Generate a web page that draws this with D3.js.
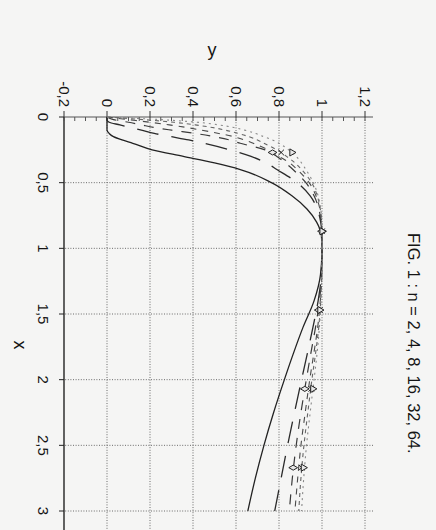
<!DOCTYPE html>
<html>
<head>
<meta charset="utf-8">
<script src="https://cdn.jsdelivr.net/npm/d3@7"></script>
<style>
	body { margin: 0; background: #f5f5f4; }
	text { font-family: "Liberation Sans", Arial, sans-serif; fill: #151515; }
	.grid { stroke: #6a6a6a; stroke-width: 1; stroke-dasharray: 1,1.6; }
	.curve { fill: none; }
	.marker { fill: #e8e8e8; stroke: #222; stroke-width: 1; }
</style>
</head>
<body>
<div class="chart"></div>
<script>
// DATA
var xVals = [0, 0.02, 0.04, 0.06, 0.08, 0.1, 0.125, 0.15, 0.175, 0.2, 0.25, 0.3, 0.35, 0.4,
	0.5, 0.6, 0.7, 0.8, 0.9, 1.0, 1.2, 1.4, 1.6, 1.8, 2.0, 2.25, 2.5, 2.75, 3.0];

var n2 = [0, 0, 0, 0, 0, 0, 0.01, 0.03, 0.07, 0.12, 0.21, 0.355, 0.5, 0.62,
	0.765, 0.86, 0.93, 0.975, 0.997, 1.0, 0.993, 0.963, 0.912, 0.867, 0.825, 0.775, 0.73, 0.69, 0.655];
var n4 = [0, 0, 0.01, 0.06, 0.11, 0.16, 0.22, 0.3, 0.38, 0.45, 0.57, 0.67, 0.74, 0.79,
	0.885, 0.945, 0.978, 0.994, 1.0, 1.0, 0.997, 0.982, 0.958, 0.932, 0.905, 0.872, 0.84, 0.81, 0.78];
var n8 = [0, 0.03, 0.1, 0.16, 0.22, 0.3, 0.41, 0.5, 0.57, 0.62, 0.735, 0.79, 0.83, 0.865,
	0.925, 0.963, 0.985, 0.996, 1.0, 1.0, 0.998, 0.988, 0.97, 0.948, 0.927, 0.902, 0.88, 0.862, 0.848];
var n16 = [0, 0.1, 0.2, 0.29, 0.37, 0.44, 0.52, 0.59, 0.64, 0.68, 0.75, 0.8, 0.85, 0.885,
	0.94, 0.972, 0.99, 0.998, 1.0, 1.0, 0.999, 0.992, 0.98, 0.962, 0.943, 0.922, 0.902, 0.887, 0.874];
var n32 = [0, 0.17, 0.31, 0.41, 0.49, 0.55, 0.61, 0.66, 0.7, 0.73, 0.79, 0.835, 0.875, 0.905,
	0.952, 0.978, 0.992, 0.998, 1.0, 1.0, 0.999, 0.994, 0.985, 0.97, 0.953, 0.934, 0.916, 0.902, 0.892];
var n64 = [0, 0.25, 0.42, 0.52, 0.59, 0.64, 0.69, 0.73, 0.77, 0.8, 0.845, 0.88, 0.905, 0.925,
	0.96, 0.982, 0.994, 0.999, 1.0, 1.0, 0.999, 0.995, 0.988, 0.977, 0.963, 0.945, 0.928, 0.915, 0.905];

// marker points
var markerX = [0.27, 0.87, 1.47, 2.07, 2.67];
var diamondY = [0.77, 1.0, 0.985, 0.92, 0.866];
var crossY = [0.81, 1.0, 0.99, 0.95, 0.905];
var triangleY = [0.86, 1.0, 0.99, 0.957, 0.913];

var xTicks = [0, 0.5, 1, 1.5, 2, 2.5, 3];
var yTicks = [-0.2, 0, 0.2, 0.4, 0.6, 0.8, 1, 1.2];
var title = "FIG. 1 : n = 2, 4, 8, 16, 32, 64.";

// INITIALIZATION PHASE
// the figure is drawn upright and then turned a quarter clockwise, like the scan
var W = 394, H = 309, extra = 420;

var svg = d3.select(".chart")
	.append("svg")
	.attr("width", 436)
	.attr("height", 530);

var g = svg.append("g")
	.attr("transform", "translate(373, 117) rotate(90)");

var x = d3.scaleLinear()
	.domain([0, 3])
	.range([0, W]);

var y = d3.scaleLinear()
	.domain([-0.2, 1.2])
	.range([H, 8]);

var loc = d3.formatLocale({ decimal: ",", thousands: ".", grouping: [3], currency: ["", ""], minus: "-" });
var fmt = loc.format("~g");

// grid
g.selectAll(".grid-y")
	.data(yTicks.filter(function(d) { return d > -0.2; }))
	.enter().append("line")
		.attr("class", "grid")
		.attr("x1", 0)
		.attr("x2", extra)
		.attr("y1", y)
		.attr("y2", y);

g.selectAll(".grid-x")
	.data(xTicks.filter(function(d) { return d > 0; }))
	.enter().append("line")
		.attr("class", "grid")
		.attr("x1", x)
		.attr("x2", x)
		.attr("y1", 0)
		.attr("y2", H);

// axes
g.append("line")
	.attr("x1", 0).attr("x2", 0)
	.attr("y1", 0).attr("y2", H)
	.attr("stroke", "#555").attr("stroke-width", 1.2);

g.append("line")
	.attr("x1", 0).attr("x2", extra)
	.attr("y1", H).attr("y2", H)
	.attr("stroke", "#111").attr("stroke-width", 1.3);

g.selectAll(".minor")
	.data(y.ticks(28))
	.enter().append("line")
		.attr("x1", 0).attr("x2", 4)
		.attr("y1", y).attr("y2", y)
		.attr("stroke", "#555");

g.selectAll(".major-y")
	.data(yTicks)
	.enter().append("line")
		.attr("x1", -6).attr("x2", 0)
		.attr("y1", y).attr("y2", y)
		.attr("stroke", "#333");

g.selectAll(".major-x")
	.data(xTicks)
	.enter().append("line")
		.attr("x1", x).attr("x2", x)
		.attr("y1", H).attr("y2", H + 5)
		.attr("stroke", "#222");

g.selectAll(".label-x")
	.data(xTicks)
	.enter().append("text")
		.attr("x", x)
		.attr("y", H + 21)
		.attr("dy", "0.35em")
		.attr("text-anchor", "middle")
		.style("font-size", "15px")
		.text(fmt);

g.selectAll(".label-y")
	.data(yTicks)
	.enter().append("text")
		.attr("x", -10)
		.attr("y", y)
		.attr("dy", "0.35em")
		.attr("text-anchor", "end")
		.style("font-size", "15px")
		.text(fmt);

g.append("text")
	.attr("transform", "translate(-67, 161) rotate(-90)")
	.attr("dy", "0.35em")
	.attr("text-anchor", "middle")
	.style("font-size", "18px")
	.text("y");

g.append("text")
	.attr("x", 228)
	.attr("y", 353)
	.attr("dy", "0.35em")
	.attr("text-anchor", "middle")
	.style("font-size", "18px")
	.text("x");

var titleText = g.append("text")
	.attr("x", 116)
	.attr("y", -41)
	.attr("dy", "0.35em")
	.style("font-size", "16.5px")
	.text(title);

// stretch the title to the length it has in the scan
var natural = titleText.node().getComputedTextLength();
titleText.style("letter-spacing", Math.max(0, (217 - natural) / (title.length - 1)) + "px");

// curves
var series = [
	{ v: n2, dash: null, color: "#222", w: 1.3 },
	{ v: n4, dash: "22,13", color: "#2a2a2a", w: 1.3 },
	{ v: n8, dash: "10,9", color: "#3a3a3a", w: 1.2 },
	{ v: n16, dash: "6,6", color: "#4a4a4a", w: 1.1 },
	{ v: n32, dash: "4,4", color: "#666", w: 1.1 },
	{ v: n64, dash: "2,4", color: "#888", w: 1.1 }
];

var line = d3.line()
	.x(function(d) { return x(d[0]); })
	.y(function(d) { return y(d[1]); })
	.curve(d3.curveMonotoneX);

g.selectAll(".curve")
	.data(series)
	.enter().append("path")
		.attr("class", "curve")
		.attr("d", function(s) { return line(xVals.map(function(xv, i) { return [xv, s.v[i]]; })); })
		.attr("stroke", function(s) { return s.color; })
		.attr("stroke-width", function(s) { return s.w; })
		.attr("stroke-dasharray", function(s) { return s.dash; });

// markers
function drawMarkers(vals, type, size) {
	g.selectAll(null)
		.data(markerX.map(function(xv, i) { return [xv, vals[i]]; }))
		.enter().append("path")
			.attr("class", "marker")
			.attr("d", d3.symbol().type(type).size(size))
			.attr("transform", function(d) { return "translate(" + x(d[0]) + "," + y(d[1]) + ")"; });
}

drawMarkers(diamondY, d3.symbolDiamond, 22);
drawMarkers(crossY, d3.symbolTimes || d3.symbolCross, 22);
drawMarkers(triangleY, d3.symbolTriangle, 22);
</script>
</body>
</html>
